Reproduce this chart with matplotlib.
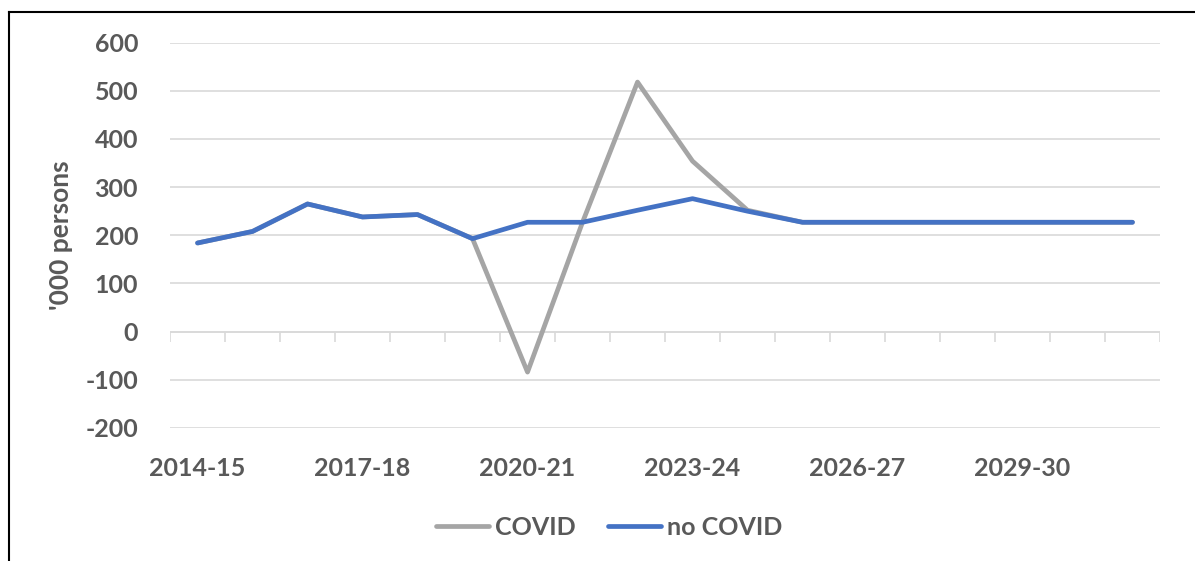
import matplotlib.pyplot as plt
from matplotlib.lines import Line2D

years = ["2014-15", "2015-16", "2016-17", "2017-18", "2018-19", "2019-20",
         "2020-21", "2021-22", "2022-23", "2023-24", "2024-25", "2025-26",
         "2026-27", "2027-28", "2028-29", "2029-30", "2030-31", "2031-32"]
covid = [184, 208, 265, 238, 243, 193, -84, 227, 518, 354, 252, 227,
         227, 227, 227, 227, 227, 227]
no_covid = [184, 208, 265, 238, 243, 193, 227, 227, 252, 276, 250, 227,
            227, 227, 227, 227, 227, 227]

plt.rcParams['font.family'] = ['Lato', 'DejaVu Sans']
plt.rcParams['axes.unicode_minus'] = False
txt = '#595959'
fs = 18

fig = plt.figure(figsize=(11.95, 5.61), dpi=100)
ax = fig.add_axes([0.1423, 0.2371, 0.8284, 0.687])

x = range(len(years))
ax.plot(x, covid, color='#A5A5A5', lw=3.4, label='COVID', solid_capstyle='round')
ax.plot(x, no_covid, color='#4472C4', lw=3.4, label='no COVID', solid_capstyle='round')

ax.set_xlim(-0.5, len(years) - 0.5)
ax.set_ylim(-200, 600)
ax.set_yticks(range(-200, 601, 100))
ax.grid(axis='y', color='#D9D9D9', lw=1.2)
ax.set_axisbelow(True)
for s in ax.spines.values():
    s.set_visible(False)

# category axis at zero with boundary tick marks
ax.axhline(0, color='#D9D9D9', lw=1.2, zorder=1)
bounds = [i - 0.5 for i in range(len(years) + 1)]
ax.vlines(bounds, -21, 0, color='#D9D9D9', lw=1.2, zorder=1)

ax.set_xticks(list(x)[::3])
ax.set_xticklabels(years[::3])
ax.tick_params(axis='x', length=0, pad=21)
ax.tick_params(axis='y', length=0, pad=23)
for lab in ax.get_xticklabels() + ax.get_yticklabels():
    lab.set_fontsize(fs)
    lab.set_fontweight('bold')
    lab.set_color(txt)

ax.set_ylabel("'000 persons", fontsize=19, fontweight='bold', color=txt, labelpad=9)

leg = fig.legend(loc='center', bbox_to_anchor=(0.51, 0.06), ncol=2, frameon=False,
                 handlelength=2.1, handletextpad=0.25, columnspacing=1.3,
                 prop={'size': fs, 'weight': 'bold'})
for t in leg.get_texts():
    t.set_color(txt)

# outer frame (top and left)
top = (561 - 12) / 561
left = 9 / 1195
fig.add_artist(Line2D([left, 1], [top, top], color='black', lw=1.5, transform=fig.transFigure))
fig.add_artist(Line2D([left, left], [0, top], color='black', lw=1.5, transform=fig.transFigure))

fig.savefig('out.png', dpi=100)
